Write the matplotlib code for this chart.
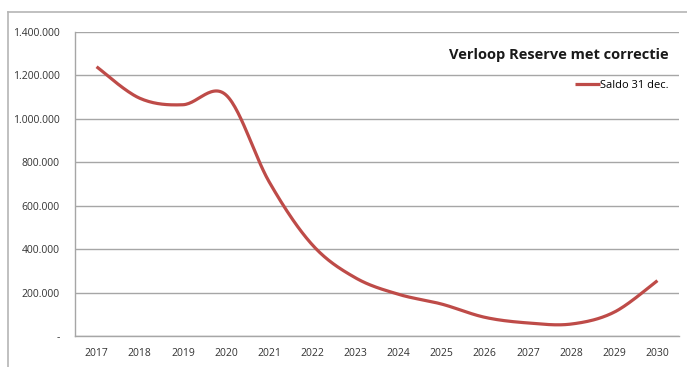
import matplotlib
matplotlib.use("Agg")
import matplotlib.pyplot as plt
import numpy as np
from matplotlib.lines import Line2D
from matplotlib.ticker import FuncFormatter

plt.rcParams["font.family"] = ["Open Sans", "DejaVu Sans"]

# data
years = ["2017", "2018", "2019", "2020", "2021", "2022", "2023",
         "2024", "2025", "2026", "2027", "2028", "2029", "2030"]
saldo = [1240000, 1095000, 1065000, 1110000, 710000, 420000, 268000,
         192000, 147000, 86000, 60000, 55000, 110000, 255000]
yticks = [0, 200000, 400000, 600000, 800000, 1000000, 1200000, 1400000]

red = "#be4b48"
grid_col = "#a6a6a6"


def smooth(xs, ys, n=30):
    # excel style smoothed line (bezier, catmull-rom control points)
    xs = np.asarray(xs, float)
    ys = np.asarray(ys, float)
    px = np.concatenate([[xs[0]], xs, [xs[-1]]])
    py = np.concatenate([[ys[0]], ys, [ys[-1]]])
    outx, outy = [], []
    t = np.linspace(0, 1, n)
    for i in range(1, len(px) - 2):
        p0 = np.array([px[i], py[i]])
        p3 = np.array([px[i + 1], py[i + 1]])
        c1 = p0 + (np.array([px[i + 1], py[i + 1]]) - np.array([px[i - 1], py[i - 1]])) / 6
        c2 = p3 - (np.array([px[i + 2], py[i + 2]]) - np.array([px[i], py[i]])) / 6
        b = ((1 - t) ** 3)[:, None] * p0 + (3 * (1 - t) ** 2 * t)[:, None] * c1 \
            + (3 * (1 - t) * t ** 2)[:, None] * c2 + (t ** 3)[:, None] * p3
        outx.extend(b[:, 0])
        outy.extend(b[:, 1])
    return outx, outy


fig = plt.figure(figsize=(6.87, 3.67), dpi=100)
ax = fig.add_axes([75 / 687, 31 / 367, 604 / 687, 304 / 367])

x = np.arange(len(years))
sx, sy = smooth(x, saldo)
ax.plot(sx, sy, color=red, lw=2.3, solid_capstyle="butt", label="Saldo 31 dec.", zorder=3)

ax.set_xlim(-0.5, len(years) - 0.5)
ax.set_ylim(0, 1400000)
ax.set_xticks(x)
ax.set_xticklabels(years)
ax.set_yticks(yticks)


def fmt(v, pos):
    if v == 0:
        return "-"
    return "{:,.0f}".format(v).replace(",", ".")


ax.yaxis.set_major_formatter(FuncFormatter(fmt))
ax.tick_params(length=0, labelsize=7.5, colors="#333333")
ax.tick_params(axis="x", pad=9)
ax.tick_params(axis="y", pad=11)
ax.grid(axis="y", color=grid_col, lw=1)
ax.set_axisbelow(True)
for s in ["top", "right"]:
    ax.spines[s].set_visible(False)
for s in ["left", "bottom"]:
    ax.spines[s].set_color(grid_col)
    ax.spines[s].set_linewidth(1)

fig.text(669 / 687, 1 - 55 / 367, "Verloop Reserve met correctie", ha="right", va="center",
         fontsize=10.5, fontweight="bold", color="#1a1a1a")
ax.legend(loc="upper right", bbox_to_anchor=(676 / 687, 1 - 72 / 367), bbox_transform=fig.transFigure,
          frameon=False, fontsize=8, handlelength=2.2, handletextpad=0.0, borderpad=0.2)

# outer chart border
fig.add_artist(Line2D([8 / 687, 1], [1 - 12 / 367, 1 - 12 / 367], color="#b5b5b5", lw=1.2))
fig.add_artist(Line2D([8 / 687, 8 / 687], [0, 1 - 12 / 367], color="#b5b5b5", lw=1.2))

fig.savefig("out.png", dpi=100)
